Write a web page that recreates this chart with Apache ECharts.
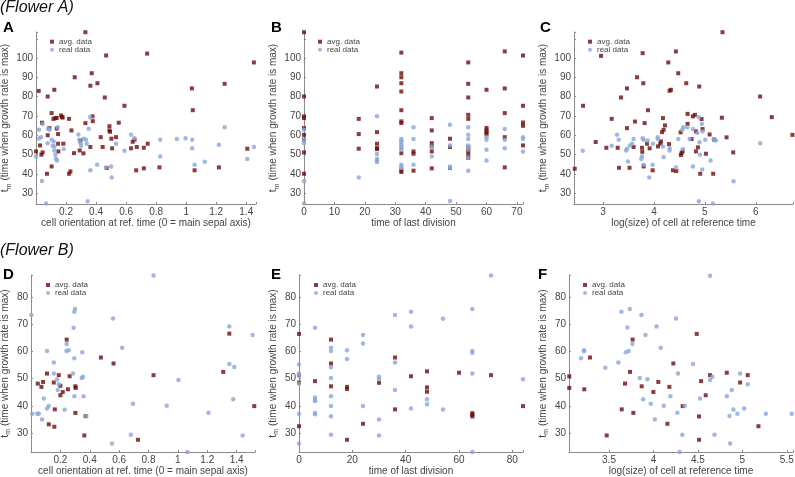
<!DOCTYPE html>
<html>
<head>
<meta charset="utf-8">
<script src="https://cdn.jsdelivr.net/npm/echarts@6/dist/echarts.min.js"></script>
<style>
  html, body { margin: 0; padding: 0; background: #fff; }
  #chart { width: 795px; height: 477px; }
</style>
</head>
<body>
<div id="chart"></div>
<script>
var chart = echarts.init(document.getElementById("chart"));

// ---- tick labels ----
var yTicksA = [30, 40, 50, 60, 70, 80, 90, 100];
var yTicksB = [30, 40, 50, 60, 70, 80];
var xTicksA = [0.2, 0.4, 0.6, 0.8, 1, 1.2, 1.4];
var xTicksB = [0, 10, 20, 30, 40, 50, 60, 70];
var xTicksC = [3, 4, 5, 6];
var xTicksD = [0.2, 0.4, 0.6, 0.8, 1, 1.2, 1.4];
var xTicksE = [0, 20, 40, 60, 80];
var xTicksF = [3.5, 4, 4.5, 5, 5.5];

// ---- Flower A ----
// A: cell orientation vs t_m
var aAvg = [[0.0,51.6],[0.018,83],[0.027,54.7],[0.04,66.5],[0.036,49.9],[0.044,51.1],[0.078,80.1],[0.078,60],[0.073,40],[0.089,63.7],
  [0.104,43.8],[0.104,71.5],[0.116,68.5],[0.122,83.6],[0.129,68.9],[0.138,69],[0.138,63.5],[0.147,60.6],[0.147,55.6],[0.149,51.6],
  [0.167,70.3],[0.173,69.4],[0.178,69.2],[0.182,55.6],[0.22,68.5],[0.22,40],[0.229,41.2],[0.236,62.5],[0.258,90.1],[0.253,50.7],
  [0.291,52.1],[0.296,57.3],[0.316,50.6],[0.329,113.5],[0.329,66.3],[0.362,85.7],[0.371,92.2],[0.376,69.8],[0.362,53.9],[0.378,67.3],
  [0.409,87],[0.431,59],[0.444,53.9],[0.458,79.6],[0.467,101.4],[0.471,43],[0.489,62.5],[0.489,64.7],[0.493,61.8],[0.502,58.2],
  [0.507,53.2],[0.533,59],[0.551,66.5],[0.589,75.3],[0.633,53.2],[0.644,56.6],[0.656,57.7],[0.667,41.8],[0.671,53.9],[0.718,42.8],
  [0.718,53.5],[0.74,102.4],[0.744,55.6],[0.822,43.3],[1.038,84.3],[1.044,73],[1.056,41.8],[1.218,43.3],[1.256,86.7],[1.407,53],[1.451,97.8]];
var aReal = [[0.0,49],[0.02,62.8],[0.02,58.3],[0.033,59],[0.044,65.8],[0.04,36.2],[0.067,24.5],[0.08,63.4],[0.078,55.9],[0.089,62.8],
  [0.104,57.7],[0.111,54.5],[0.118,56.8],[0.122,54.2],[0.122,52.1],[0.129,49.9],[0.133,47.8],[0.14,46.9],[0.144,64.1],[0.184,52.8],
  [0.282,60.4],[0.289,57.7],[0.296,55.9],[0.3,54.5],[0.318,58.2],[0.333,57.7],[0.338,55.6],[0.351,63.4],[0.36,69.4],[0.344,25.7],
  [0.362,41.8],[0.407,44.7],[0.467,43.3],[0.5,43.8],[0.504,38.1],[0.533,55.6],[0.589,52],[0.633,60.2],[0.656,58.5],[0.827,57.7],
  [0.827,49],[0.938,58],[0.996,58.5],[1.04,57.7],[1.04,53.3],[1.056,44.7],[1.124,46.2],[1.218,55.1],[1.256,64.1],[1.407,47.6],[1.451,53.9]];

// B: time of last division (columns) vs t_m
var bDivTimes = [0, 18, 24, 32, 36, 42, 48, 54, 60, 66, 72];
var bAvgCols = [
  [113.5, 80.1, 69.8, 68.9, 63.7, 60.2, 57.7, 51.1, 40],
  [68.5, 60.6, 53],
  [85.3, 61.6, 55.6, 53.3, 52.8],
  [102.9, 92.2, 90.1, 87, 82.7, 73, 67.2, 66.3, 50.7, 41.8, 40.9],
  [51.6, 50.4, 41.6],
  [68.9, 62.5, 55.9, 54.2, 51.6, 42.8],
  [58.2, 53.9, 43],
  [97.8, 86.7, 79.6, 70.6, 68.5, 53.9, 52.5, 51.6, 49.9, 48.3],
  [83.6, 63.8, 62.5, 61.5, 60.5],
  [103.5, 84.3, 71.5, 59, 43.3],
  [101.4, 75.3, 66.6, 64.9, 54.7]
];
var bRealCols = [
  [62.8, 57.7, 55.9, 36.1, 24.5],
  [38.1],
  [69.8, 50.2, 47.8, 46.8, 46.1],
  [58, 57.3, 56.3, 55.1, 54.2, 53.3, 52.5, 44.7, 43.8, 43],
  [64.1, 58, 44.7],
  [54.2, 49],
  [65.4, 54.7, 43.8, 43, 25.9],
  [64.1, 60.2, 58, 54.7, 53.7, 52.5, 48.5, 41.6],
  [59, 57.7, 52.5, 46.9],
  [63.2, 57.7, 53.3],
  [58.9, 58, 51.6]
];

// C: log(size) vs t_m
var cAvg = [[2.444,42.6],[2.608,75.3],[2.961,101.2],[2.856,56.5],[3.065,53.5],[3.17,68.5],[3.288,53.5],[3.314,43.1],[3.353,79.6],[3.47,84.3],
  [3.47,63.7],[3.52,43.1],[3.6,53.9],[3.627,67.1],[3.667,90.1],[3.778,102.6],[3.765,53.5],[3.771,51.4],[3.79,87],[3.797,43.8],
  [3.817,66.3],[3.863,55.6],[3.882,73],[3.915,53.2],[3.974,41.8],[4.078,54.2],[4.124,55.6],[4.137,56.8],[4.157,61.6],[4.176,68.9],
  [4.19,62.8],[4.216,65.1],[4.281,97.8],[4.294,55.4],[4.307,83.1],[4.333,83.6],[4.373,41.8],[4.431,103.5],[4.438,41.4],[4.477,92.2],
  [4.523,61.5],[4.529,49.7],[4.542,50.7],[4.562,51.6],[4.634,87],[4.66,71.1],[4.66,65.9],[4.739,58],[4.765,69.8],[4.804,70.6],
  [4.824,62],[4.824,51.6],[4.863,53.7],[4.889,85.3],[4.908,40],[4.935,68.4],[4.954,63.2],[5.02,50.4],[5.092,60.4],[5.163,40],
  [5.183,57.7],[5.333,69.1],[5.346,113.5],[5.425,58.9],[5.556,51.1],[6.085,80.1],[6.314,69.4],[6.719,60.2]];
var cReal = [[2.601,52],[3.275,60.2],[3.307,57.7],[3.17,54.5],[3.451,52.1],[3.47,53],[3.49,46.4],[3.529,54.7],[3.569,55.6],[3.6,58],
  [3.752,47.6],[3.765,49],[3.778,58.5],[3.797,57.7],[3.797,44.7],[3.876,57.3],[3.908,38.1],[3.974,44.7],[3.98,55.6],[4.072,58.9],
  [4.078,58],[4.176,54.2],[4.19,48.7],[4.307,53.3],[4.307,52.1],[4.431,43.3],[4.477,58],[4.556,62.8],[4.575,64.1],[4.569,52.8],
  [4.654,64.1],[4.699,58],[4.765,63.2],[4.765,43.8],[4.85,61.1],[4.882,69.4],[4.882,25.7],[4.895,56.3],[4.902,49.9],[4.941,65.8],
  [4.948,42.2],[4.954,62],[5.007,57.7],[5.111,46.9],[5.157,24.5],[5.17,58],[5.216,57.3],[5.562,36.1],[6.085,55.9]];

// ---- Flower B ----
var dAvg = [[0.046,48.2],[0.071,47],[0.082,48.8],[0.109,51.9],[0.121,33.2],[0.155,48.6],[0.162,38.7],[0.159,32.3],[0.189,51.3],[0.2,47.4],
  [0.216,45.1],[0.2,43.9],[0.243,64.4],[0.252,46.1],[0.263,50.9],[0.302,47.2],[0.304,46.6],[0.302,37.4],[0.363,29.1],[0.372,36.2],
  [0.476,57.8],[0.562,55.6],[0.728,27.5],[0.834,51.3],[1.309,52.5],[1.35,66.6],[1.52,39.9]];
var dReal = [[0.003,73.5],[0.008,37.1],[0.042,37.1],[0.053,37.1],[0.075,35],[0.087,42.7],[0.109,60.2],[0.109,39],[0.121,39.9],[0.155,56],
  [0.155,51.9],[0.177,49.7],[0.189,48],[0.182,45.8],[0.229,38.6],[0.241,60.2],[0.243,62.8],[0.257,60.5],[0.286,51.9],[0.29,68.8],
  [0.295,74.7],[0.3,75.7],[0.295,57.5],[0.295,43.5],[0.345,50.3],[0.354,50.7],[0.349,59.7],[0.358,43.5],[0.377,36.3],[0.551,26.1],
  [0.558,72.2],[0.621,61.4],[0.68,29.4],[0.694,40.8],[0.834,88],[0.924,40],[1.004,49.5],[1.065,23],[1.208,37.5],[1.35,69.2],
  [1.35,55.4],[1.384,54.3],[1.377,42.4],[1.441,29.1],[1.509,66.1]];

var eDivTimes = [0, 6, 12, 18, 24, 30, 36, 42, 48, 54, 60, 65, 72, 84];
var eAvgCols = [
  [66.5, 51.3, 48.6, 32.5],
  [49.1],
  [64.4, 55.6, 47.2],
  [47, 46.2, 27.5],
  [33.4],
  [48.5],
  [57.8, 38.7],
  [50.9],
  [52.7, 46.8, 45.2],
  [],
  [52.2],
  [37.3, 36.7, 36.1],
  [51.3],
  [39.9]
];
var eRealCols = [
  [55.2, 51.9, 51.3, 48.2, 37.1, 26.1],
  [68.8, 43.1, 42.2, 41.8, 37.4, 36.9],
  [61.4, 60.2, 54.2, 50.3, 43.5, 39.9, 36.2, 29.4],
  [60.5, 57.3],
  [66.1, 63, 39.9],
  [50.7, 49.8, 35, 29.1],
  [73.5, 56, 45.8],
  [74.7, 69.2, 39],
  [42.4, 40.6],
  [72.1, 38.7],
  [],
  [75.7, 60.2, 59.6, 51.9, 23],
  [88],
  [49.8]
];

var fAvg = [[3.053,50.9],[3.053,46.6],[3.222,46.1],[3.286,57.8],[3.474,29.1],[3.643,38.7],[3.68,48.2],[3.736,52.5],[3.766,64.4],[3.774,37.4],
  [3.868,47.2],[3.999,45.1],[4.055,48.8],[4.157,33.4],[4.179,47],[4.224,55.6],[4.329,39.9],[4.487,66.5],[4.513,27.5],[4.513,36.1],
  [4.536,49.1],[4.588,43.9],[4.637,51.3],[4.825,52.2],[4.975,48.6],[5.061,51.3],[5.181,32.5]];
var fReal = [[3.185,57.5],[3.219,60.5],[3.219,60.1],[3.459,54],[3.606,56],[3.64,74.7],[3.689,59.7],[3.707,68.9],[3.722,60.2],[3.734,75.7],
  [3.764,62.8],[3.846,50.3],[3.865,73.5],[3.884,42.4],[3.91,66.1],[3.932,49.8],[3.97,40.8],[4.015,35],[4.034,69.2],[4.082,61.4],
  [4.116,40],[4.19,43.5],[4.254,72.2],[4.269,37.5],[4.276,51.9],[4.295,23],[4.325,29.4],[4.352,40],[4.445,55.4],[4.524,42.7],
  [4.637,87.9],[4.637,49.5],[4.663,50.7],[4.686,29.4],[4.825,43.5],[4.855,36.3],[4.862,26.1],[4.881,45.8],[4.9,38.7],[4.945,37.1],
  [4.975,51.9],[5.02,39],[5.061,48],[5.264,37.1],[5.556,37.1]];

function fromCols(xs, cols) {
  var out = [];
  for (var i = 0; i < xs.length; i++) {
    for (var j = 0; j < cols[i].length; j++) out.push([xs[i], cols[i][j]]);
  }
  return out;
}

var RED = "#6e0b0b";
var BLUE = "#89a7d8";
var AXIS = "#8a8a8a";
var LABEL = "#444";
var FONT = "Liberation Sans, Arial, sans-serif";

function onlyTicks(ticks) {
  return function (v) {
    for (var i = 0; i < ticks.length; i++) {
      if (Math.abs(ticks[i] - v) < 1e-6) return String(+v.toFixed(6));
    }
    return "";
  };
}

// panel layout: [left, top, width, height]
var panels = [
  { box: [36, 32, 220, 172], x: [0, 1.465], xi: 0.2, xt: xTicksA, y: [24.3, 113.6], yt: yTicksA,
    xname: "cell orientation at ref. time (0 = main sepal axis)", avg: aAvg, real: aReal, leg: [50, 37.7] },
  { box: [304, 32, 219, 172], x: [0, 72], xi: 10, xt: xTicksB, y: [24.3, 113.6], yt: yTicksA,
    xname: "time of last division", avg: fromCols(bDivTimes, bAvgCols), real: fromCols(bDivTimes, bRealCols), leg: [318, 37.7] },
  { box: [574, 32, 219, 172], x: [2.43, 6.73], xi: 1, xt: xTicksC, y: [24.3, 113.6], yt: yTicksA,
    xname: "log(size) of cell at reference time", avg: cAvg, real: cReal, leg: [588, 37.7] },
  { box: [31, 275, 224, 177], x: [0, 1.525], xi: 0.2, xt: xTicksD, y: [23, 88.2], yt: yTicksB,
    xname: "cell orientation at ref. time (0 = main sepal axis)", avg: dAvg, real: dReal, leg: [46, 281] },
  { box: [299, 275, 224, 177], x: [0, 84], xi: 20, xt: xTicksE, y: [23, 88.2], yt: yTicksB,
    xname: "time of last division", avg: fromCols(eDivTimes, eAvgCols), real: fromCols(eDivTimes, eRealCols), leg: [314, 281] },
  { box: [569, 275, 224, 177], x: [3.05, 5.57], xi: 0.5, xt: xTicksF, y: [23, 88.2], yt: yTicksB,
    xname: "log(size) of cell at reference time", avg: fAvg, real: fReal, leg: [583, 281] }
];

var grid = [], xAxis = [], yAxis = [], series = [], legend = [];
panels.forEach(function (p, i) {
  grid.push({ left: p.box[0], top: p.box[1], width: p.box[2], height: p.box[3], outerBoundsMode: "none", containLabel: false });
  xAxis.push({
    type: "value", gridIndex: i, min: p.x[0], max: p.x[1], minInterval: p.xi, maxInterval: p.xi,
    name: p.xname, nameLocation: "middle", nameGap: 12,
    nameTextStyle: { fontFamily: FONT, fontSize: 10, color: LABEL },
    axisLine: { show: true, lineStyle: { color: AXIS, width: 1 } },
    axisTick: { show: true, inside: true, length: 2, lineStyle: { color: AXIS } },
    axisLabel: { margin: 3, fontFamily: FONT, fontSize: 10, color: LABEL, formatter: onlyTicks(p.xt), showMinLabel: true, showMaxLabel: true },
    splitLine: { show: false }
  });
  yAxis.push({
    type: "value", gridIndex: i, min: p.y[0], max: p.y[1], minInterval: 10, maxInterval: 10,
    name: "{t|t}{m|m} (time when growth rate is max)", nameLocation: "middle", nameGap: 19,
    nameTextStyle: { fontFamily: FONT, fontSize: 10, color: LABEL, lineHeight: 14,
      rich: { t: { fontFamily: FONT, fontSize: 11, color: LABEL, lineHeight: 14 },
              m: { fontFamily: FONT, fontSize: 7, color: LABEL, lineHeight: 14, verticalAlign: "bottom" } } },
    axisLine: { show: true, lineStyle: { color: AXIS, width: 1 } },
    axisTick: { show: true, inside: true, length: 2, lineStyle: { color: AXIS } },
    axisLabel: { margin: 3, fontFamily: FONT, fontSize: 10, color: LABEL, formatter: onlyTicks(p.yt), showMinLabel: true, showMaxLabel: true },
    splitLine: { show: false }
  });
  series.push({
    name: "avg. data", type: "scatter", xAxisIndex: i, yAxisIndex: i, data: p.avg,
    symbol: "rect", symbolSize: 4, itemStyle: { color: RED }, silent: true
  });
  series.push({
    name: "real data", type: "scatter", xAxisIndex: i, yAxisIndex: i, data: p.real,
    symbol: "circle", symbolSize: 4.5, itemStyle: { color: BLUE }, silent: true
  });
  legend.push({
    left: p.leg[0], top: p.leg[1], orient: "vertical", padding: 0, itemGap: 0,
    itemWidth: 4, itemHeight: 4, selectedMode: false,
    textStyle: { fontFamily: FONT, fontSize: 8, color: LABEL, lineHeight: 8 },
    data: [{ name: "avg. data", icon: "rect" }, { name: "real data", icon: "circle" }]
  });
});

var titleStyle = { fontFamily: FONT, fontSize: 16, fontStyle: "italic", fontWeight: "normal", color: "#111" };
var letterStyle = { fontFamily: FONT, fontSize: 15, fontWeight: "bold", color: "#000" };
var titles = [
  { text: "(Flower A)", left: 0, top: 0, padding: 0, textStyle: titleStyle },
  { text: "(Flower B)", left: 0, top: 243, padding: 0, textStyle: titleStyle },
  { text: "A", left: 3, top: 20, padding: 0, textStyle: letterStyle },
  { text: "B", left: 271, top: 20, padding: 0, textStyle: letterStyle },
  { text: "C", left: 540, top: 20, padding: 0, textStyle: letterStyle },
  { text: "D", left: 3, top: 267, padding: 0, textStyle: letterStyle },
  { text: "E", left: 271, top: 267, padding: 0, textStyle: letterStyle },
  { text: "F", left: 538, top: 267, padding: 0, textStyle: letterStyle }
];

chart.setOption({
  animation: false,
  backgroundColor: "#fff",
  title: titles,
  legend: legend,
  grid: grid,
  xAxis: xAxis,
  yAxis: yAxis,
  series: series
});
</script>
</body>
</html>
